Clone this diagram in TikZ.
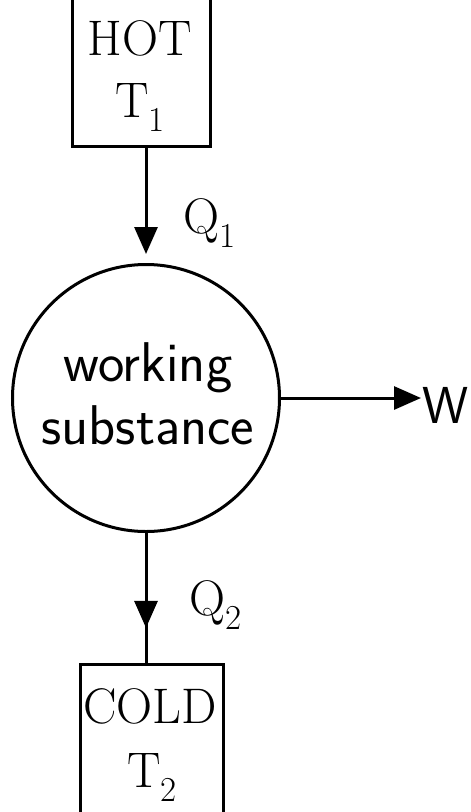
\documentclass[tikz,border=0pt]{standalone}
\usepackage{tikz}
\usetikzlibrary{positioning, arrows.meta, calc}

\begin{document}
\begin{tikzpicture}[x=1pt, y=-1pt, line width=3pt,
    font=\fontsize{50}{60}\selectfont,
    reservoir/.style={draw, rectangle, inner sep=0pt},
    flow/.style={-{Triangle[length=27pt, width=23pt]}},
    label text/.style={inner sep=0pt}]
  \useasboundingbox (0,0) rectangle (471,812);
  % reservoirs and the engine
  \node[reservoir, minimum width=138pt, minimum height=175pt, anchor=south] (hot) at (141,148) {};
  \node[circle, draw, minimum size=267pt, inner sep=0pt] (ws) at (146,398) {};
  \node[reservoir, minimum width=143pt, minimum height=170pt, anchor=north] (cold) at (151.5,663) {};
  % texts
  \node[label text, anchor=base] (hottxt) at (140,55) {HOT};
  \node[label text, anchor=base] (t1) at (140,117) {T\textsubscript{1}};
  \node[label text, anchor=base] (coldtxt) at (150,723) {COLD};
  \node[label text, anchor=base] (t2) at (152,787) {T\textsubscript{2}};
  \node[label text, font=\fontsize{56}{63}\selectfont\sffamily, align=center] (wstxt) at (148,394)
    {working\\ substance};
  \node[label text, font=\fontsize{52}{60}\selectfont\sffamily, anchor=base west] (work) at (421,423) {W};
  \node[label text, anchor=base west] (q1) at (182,233) {Q\textsubscript{1}};
  \node[label text, anchor=base west] (q2) at (188,615) {Q\textsubscript{2}};
  % heat and work flows
  \draw[flow, shorten >=9pt] (hot.south -| ws.north) -- (ws.north);
  \draw (ws.south) -- (ws.south |- cold.north);
  \draw[flow] (ws.south) -- ($(ws.south)!0.73!(ws.south |- cold.north)$);
  \draw[flow] (ws.east) -- (ws.east -| work.west);
\end{tikzpicture}
\end{document}
